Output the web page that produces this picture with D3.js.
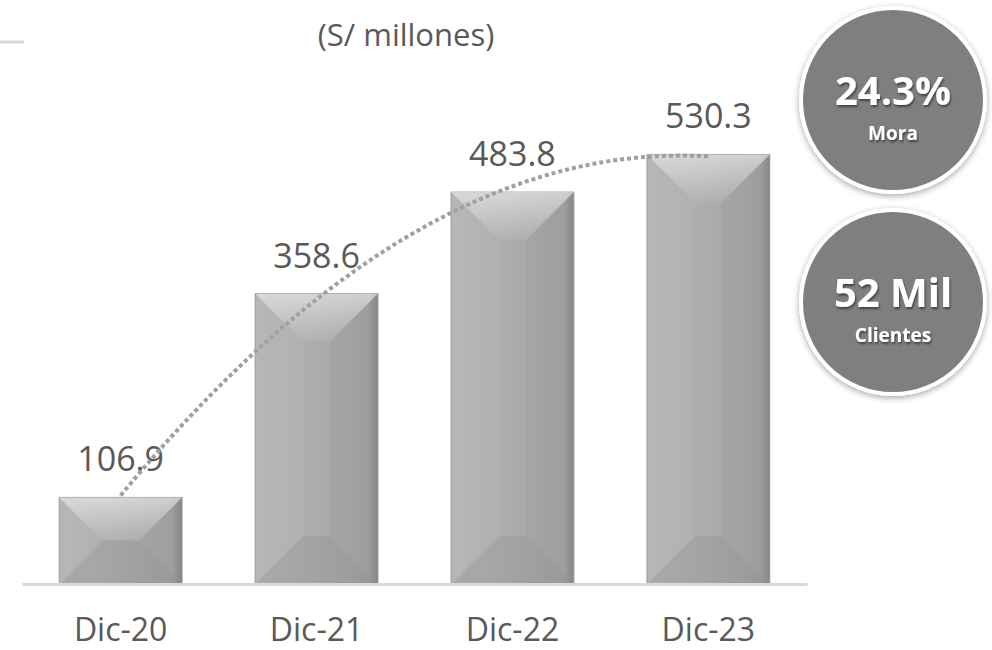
<!DOCTYPE html>
<html>
<head>
<meta charset="utf-8">
<script src="https://cdn.jsdelivr.net/npm/d3@7"></script>
<style>
  body { margin: 0; background: #fff; overflow: hidden; }
  svg { display: block; }
</style>
</head>
<body>
<div id="chart"></div>
<script>
const W = 992, H = 650;

// data
var categories = ["Dic-20", "Dic-21", "Dic-22", "Dic-23"];
var values = [106.9, 358.6, 483.8, 530.3];
var unitLabel = "(S/ millones)";
var kpiValues = ["24.3%", "52 Mil"];
var kpiLabels = ["Mora", "Clientes"];

var svg = d3.select("#chart")
    .append("svg")
    .attr("width", W)
    .attr("height", H);

var defs = svg.append("defs");

// horizontal shading of the bar body
var bodyGrad = defs.append("linearGradient")
    .attr("id", "barBody")
    .attr("x1", "0%").attr("x2", "100%").attr("y1", "0%").attr("y2", "0%");
bodyGrad.append("stop").attr("offset", "0%").attr("stop-color", "#b4b4b4");
bodyGrad.append("stop").attr("offset", "50%").attr("stop-color", "#acacac");
bodyGrad.append("stop").attr("offset", "92%").attr("stop-color", "#a2a2a2");
bodyGrad.append("stop").attr("offset", "100%").attr("stop-color", "#8a8a8a");

// top facet highlight
var topGrad = defs.append("linearGradient")
    .attr("id", "barTop")
    .attr("x1", "0%").attr("x2", "0%").attr("y1", "0%").attr("y2", "100%");
topGrad.append("stop").attr("offset", "0%").attr("stop-color", "#fff").attr("stop-opacity", 0.5);
topGrad.append("stop").attr("offset", "100%").attr("stop-color", "#fff").attr("stop-opacity", 0.05);

var shadow = defs.append("filter")
    .attr("id", "circShadow")
    .attr("x", "-20%").attr("y", "-20%").attr("width", "140%").attr("height", "140%");
shadow.append("feDropShadow")
    .attr("dx", 0).attr("dy", 2)
    .attr("stdDeviation", 3)
    .attr("flood-color", "#000")
    .attr("flood-opacity", 0.35);

var txtShadow = defs.append("filter")
    .attr("id", "txtShadow")
    .attr("x", "-10%").attr("y", "-20%").attr("width", "120%").attr("height", "150%");
txtShadow.append("feDropShadow")
    .attr("dx", 1).attr("dy", 2)
    .attr("stdDeviation", 1.2)
    .attr("flood-color", "#000")
    .attr("flood-opacity", 0.5);

// scales
var x = d3.scaleBand()
    .domain(categories)
    .range([22, 807])
    .paddingInner(0.373)
    .paddingOuter(0.19);

var y = d3.scaleLinear()
    .domain([0, 600])
    .range([584, 98]);

// small grey stub top-left
svg.append("line")
    .attr("x1", 0).attr("x2", 24)
    .attr("y1", 42).attr("y2", 42)
    .style("stroke", "#d9d9d9")
    .style("stroke-width", 3);

// title
svg.append("text")
    .attr("x", 406)
    .attr("y", 46)
    .attr("text-anchor", "middle")
    .style("font-family", "'Open Sans', sans-serif")
    .style("font-size", "31px")
    .style("fill", "#595959")
    .text(unitLabel);

// bars
var barData = categories.map(function(c, i) { return { cat: c, val: values[i] }; });

var bar = svg.selectAll(".bar")
    .data(barData)
    .enter().append("g")
    .attr("class", "bar");

bar.append("rect")
    .attr("x", function(d) { return x(d.cat); })
    .attr("y", function(d) { return y(d.val); })
    .attr("width", x.bandwidth())
    .attr("height", function(d) { return y(0) - y(d.val); })
    .style("fill", "url(#barBody)")
    .style("stroke", "#999")
    .style("stroke-width", 1);

// bevel facets
function facet(d, side) {
    var x0 = x(d.cat), x1 = x0 + x.bandwidth();
    var y0 = y(d.val), y1 = y(0);
    var dd = Math.min(48, (y1 - y0) / 2, (x1 - x0) / 2);
    var p;
    if (side == "top") p = [[x0, y0], [x1, y0], [x1 - dd, y0 + dd], [x0 + dd, y0 + dd]];
    if (side == "bottom") p = [[x0, y1], [x1, y1], [x1 - dd, y1 - dd], [x0 + dd, y1 - dd]];
    if (side == "left") p = [[x0, y0], [x0 + dd, y0 + dd], [x0 + dd, y1 - dd], [x0, y1]];
    if (side == "right") p = [[x1, y0], [x1 - dd, y0 + dd], [x1 - dd, y1 - dd], [x1, y1]];
    return "M" + p.join("L") + "Z";
}

bar.append("path")
    .attr("d", function(d) { return facet(d, "left"); })
    .style("fill", "#fff").style("fill-opacity", 0.04);
bar.append("path")
    .attr("d", function(d) { return facet(d, "right"); })
    .style("fill", "#000").style("fill-opacity", 0.025);
bar.append("path")
    .attr("d", function(d) { return facet(d, "bottom"); })
    .style("fill", "#000").style("fill-opacity", 0.05);
bar.append("path")
    .attr("d", function(d) { return facet(d, "top"); })
    .style("fill", "url(#barTop)");

// value labels
bar.append("text")
    .attr("x", function(d) { return x(d.cat) + x.bandwidth() / 2; })
    .attr("y", function(d) { return y(d.val) - 26; })
    .attr("text-anchor", "middle")
    .style("font-family", "'Open Sans', sans-serif")
    .style("font-size", "34px")
    .style("fill", "#595959")
    .text(function(d) { return d3.format(".1f")(d.val); });

// polynomial (order 2) trendline fitted to the bars, like the excel one
var idx = values.map(function(v, i) { return i + 1; });
var mx = d3.mean(idx), my = d3.mean(values);
var q = idx.map(function(t) { return (t - mx) * (t - mx); });
var mq = d3.mean(q);
var c1 = d3.sum(idx, function(t, i) { return (t - mx) * values[i]; }) / d3.sum(idx, function(t) { return (t - mx) * (t - mx); });
var c2 = d3.sum(q, function(v, i) { return (v - mq) * values[i]; }) / d3.sum(q, function(v) { return (v - mq) * (v - mq); });
function trend(t) { return my + c1 * (t - mx) + c2 * ((t - mx) * (t - mx) - mq); }

var xPos = d3.scaleLinear()
    .domain([1, categories.length])
    .range([x(categories[0]) + x.bandwidth() / 2, x(categories[categories.length - 1]) + x.bandwidth() / 2]);

var trendPts = d3.range(1, categories.length + 0.001, 0.05);

svg.append("path")
    .datum(trendPts)
    .attr("d", d3.line()
        .x(function(t) { return xPos(t); })
        .y(function(t) { return y(trend(t)); })
        .curve(d3.curveMonotoneX))
    .style("fill", "none")
    .style("stroke", "#a0a0a0")
    .style("stroke-width", 4)
    .style("stroke-dasharray", "4,3");

// category axis
var xAxis = svg.append("g")
    .attr("transform", "translate(0," + y(0) + ")")
    .call(d3.axisBottom(x).tickSize(0).tickSizeOuter(0).tickPadding(34));

xAxis.select(".domain")
    .style("stroke", "#d9d9d9")
    .style("stroke-width", 3);

xAxis.selectAll("text")
    .style("font-family", "'Open Sans', sans-serif")
    .style("font-size", "32px")
    .style("fill", "#595959");

// KPI circles on the right
var kpi = svg.selectAll(".kpi")
    .data(kpiValues)
    .enter().append("g")
    .attr("class", "kpi")
    .attr("transform", function(d, i) { return "translate(893," + (100 + i * 202) + ")"; });

kpi.append("circle")
    .attr("r", 92)
    .style("fill", "#7f7f7f")
    .style("stroke", "#fff")
    .style("stroke-width", 4)
    .attr("filter", "url(#circShadow)");

kpi.append("text")
    .attr("y", 5)
    .attr("text-anchor", "middle")
    .attr("filter", "url(#txtShadow)")
    .style("font-family", "'Open Sans', sans-serif")
    .style("font-weight", "bold")
    .style("font-size", "40px")
    .style("fill", "#fff")
    .text(function(d) { return d; });

kpi.append("text")
    .attr("y", 40)
    .attr("text-anchor", "middle")
    .attr("filter", "url(#txtShadow)")
    .style("font-family", "'Open Sans', sans-serif")
    .style("font-weight", "bold")
    .style("font-size", "19px")
    .style("fill", "#fff")
    .text(function(d, i) { return kpiLabels[i]; });
</script>
</body>
</html>
